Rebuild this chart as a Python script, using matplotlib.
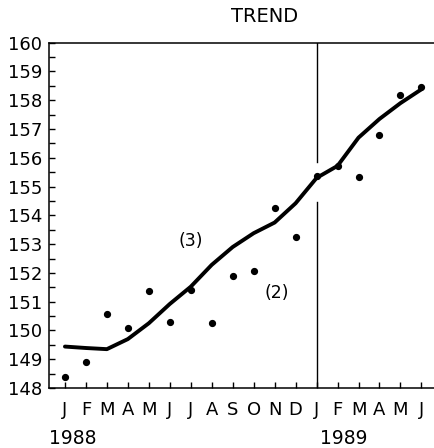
import matplotlib.pyplot as plt
from matplotlib.ticker import MultipleLocator

plt.rcParams['font.family'] = ['DejaVu Sans']

months = ['J', 'F', 'M', 'A', 'M', 'J', 'J', 'A', 'S', 'O', 'N', 'D',
          'J', 'F', 'M', 'A', 'M', 'J']
x = list(range(len(months)))

# observed monthly values (dots)
observed = [148.38, 148.89, 150.58, 150.10, 151.37, 150.29, 151.41, 150.26,
            151.88, 152.05, 154.27, 153.26, 155.37, 155.70, 155.35, 156.80,
            158.18, 158.47]

# trend curve read at each month
trend = [149.44, 149.39, 149.35, 149.70, 150.25, 150.92, 151.52, 152.28,
         152.90, 153.38, 153.75, 154.42, 155.30, 155.72, 156.70, 157.35,
         157.90, 158.38]

years = ['1988', '1989']

fig = plt.figure(figsize=(4.34, 4.48), dpi=100)
ax = fig.add_axes([49 / 434, 1 - 388 / 448, 385 / 434, (388 - 42.7) / 448])

ax.plot(x, trend, color='black', lw=2.8, solid_capstyle='round',
        solid_joinstyle='round')
ax.plot(x, observed, 'o', color='black', ms=4.2)

# year break line with a gap around the trend
ax.plot([12, 12], [160, 155.87], color='black', lw=1)
ax.plot([12, 12], [154.48, 148], color='black', lw=1)

ax.text(6, 153.1, '(3)', fontsize=12.5, ha='center', va='center')
ax.text(10.1, 151.3, '(2)', fontsize=12.5, ha='center', va='center')

ax.set_xlim(-0.76, 17.6)
ax.set_ylim(148, 160)

ax.set_xticks(x)
ax.set_xticklabels(months, fontsize=13)
ax.yaxis.set_major_locator(MultipleLocator(1))
ax.yaxis.set_minor_locator(MultipleLocator(0.5))
ax.tick_params(axis='y', which='both', direction='in', length=4, width=1,
               labelsize=13, pad=5)
ax.tick_params(axis='x', direction='in', length=4, width=1, pad=9)

for s in ['left', 'bottom', 'top']:
    ax.spines[s].set_linewidth(1.1)
ax.spines['right'].set_visible(False)

ax.text(0.35, -0.145, years[0], transform=ax.get_xaxis_transform(),
        fontsize=13.5, ha='center', va='center')
ax.text(13.3, -0.145, years[1], transform=ax.get_xaxis_transform(),
        fontsize=13.5, ha='center', va='center')

fig.text(265 / 434, 1 - 16 / 448, 'TREND', fontsize=14, ha='center',
         va='center')

fig.savefig('out.png', dpi=100)
